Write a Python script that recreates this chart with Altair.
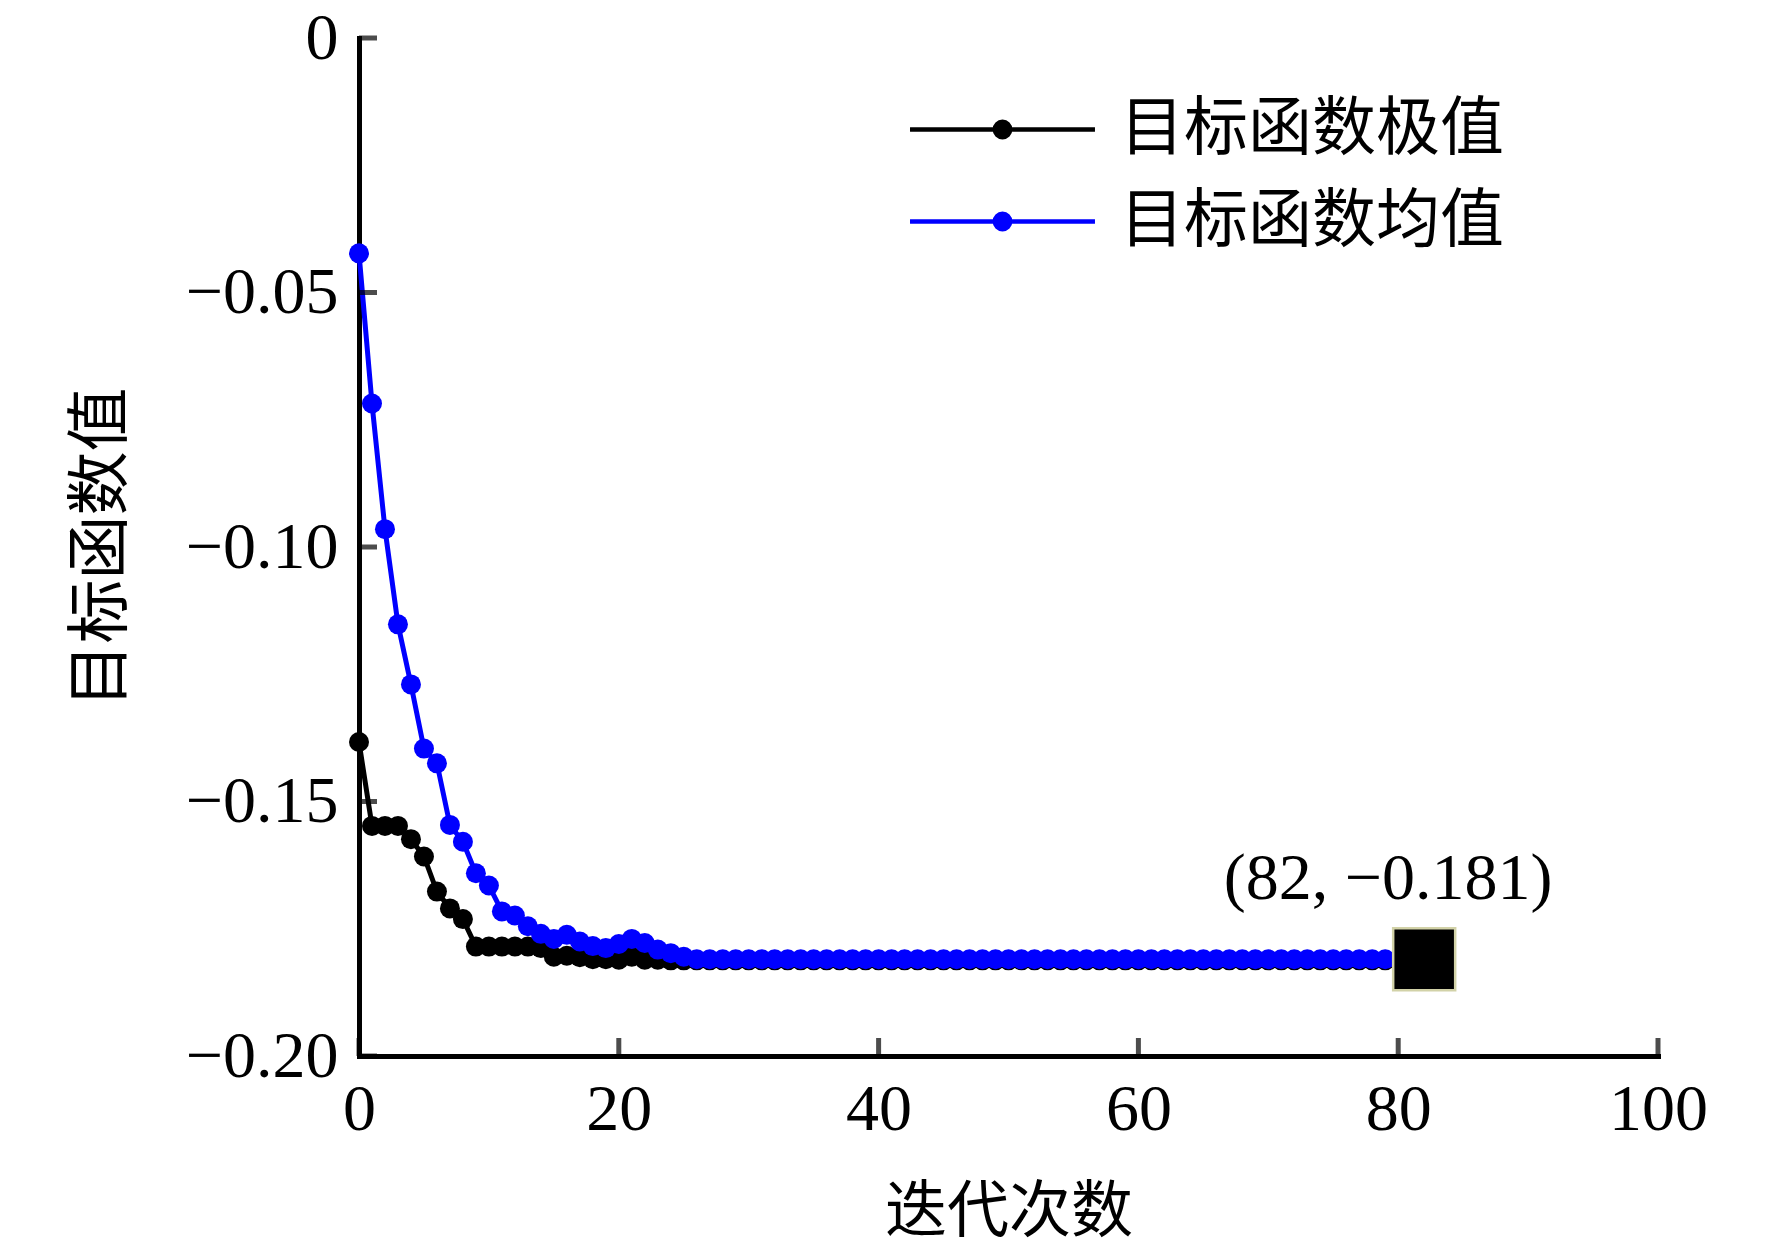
import altair as alt
import pandas as pd

# ---------------- data ----------------
iterations = list(range(80))
extreme_vals = [
    -0.1383, -0.1548, -0.1548, -0.1548, -0.1574, -0.1608, -0.1677, -0.1710, -0.1731, -0.1785,
    -0.1785, -0.1785, -0.1785, -0.1785, -0.1788, -0.1805, -0.1803, -0.1806, -0.1810, -0.1810,
    -0.1811, -0.1805, -0.1811, -0.1811, -0.1812, -0.1812, -0.1812, -0.1812, -0.1812, -0.1812,
    -0.1812, -0.1812, -0.1812, -0.1812, -0.1812, -0.1812, -0.1812, -0.1812, -0.1812, -0.1812,
    -0.1812, -0.1812, -0.1812, -0.1812, -0.1812, -0.1812, -0.1812, -0.1812, -0.1812, -0.1812,
    -0.1812, -0.1812, -0.1812, -0.1812, -0.1812, -0.1812, -0.1812, -0.1812, -0.1812, -0.1812,
    -0.1812, -0.1812, -0.1812, -0.1812, -0.1812, -0.1812, -0.1812, -0.1812, -0.1812, -0.1812,
    -0.1812, -0.1812, -0.1812, -0.1812, -0.1812, -0.1812, -0.1812, -0.1812, -0.1812, -0.1812,
]
mean_vals = [
    -0.0423, -0.0718, -0.0965, -0.1152, -0.1270, -0.1396, -0.1425, -0.1546, -0.1579, -0.1641,
    -0.1665, -0.1716, -0.1724, -0.1745, -0.1760, -0.1770, -0.1762, -0.1775, -0.1784, -0.1788,
    -0.1780, -0.1770, -0.1778, -0.1791, -0.1798, -0.1805, -0.1810, -0.1810, -0.1810, -0.1810,
    -0.1810, -0.1810, -0.1810, -0.1810, -0.1810, -0.1810, -0.1810, -0.1810, -0.1810, -0.1810,
    -0.1810, -0.1810, -0.1810, -0.1810, -0.1810, -0.1810, -0.1810, -0.1810, -0.1810, -0.1810,
    -0.1810, -0.1810, -0.1810, -0.1810, -0.1810, -0.1810, -0.1810, -0.1810, -0.1810, -0.1810,
    -0.1810, -0.1810, -0.1810, -0.1810, -0.1810, -0.1810, -0.1810, -0.1810, -0.1810, -0.1810,
    -0.1810, -0.1810, -0.1810, -0.1810, -0.1810, -0.1810, -0.1810, -0.1810, -0.1810, -0.1810,
]
series_names = ["目标函数极值", "目标函数均值"]
series_colors = ["#000000", "#0000ff"]
x_ticks = [0, 20, 40, 60, 80, 100]
y_ticks = [0, -0.05, -0.10, -0.15, -0.20]
best_x = [82]
best_y = [-0.181]
best_label = ["(82, \u22120.181)"]

FONT = "Liberation Serif, Times New Roman, Noto Sans CJK SC"

df = pd.DataFrame({
    "iter": iterations * 2,
    "value": extreme_vals + mean_vals,
    "series": [series_names[0]] * len(iterations) + [series_names[1]] * len(iterations),
})
df_xt = pd.DataFrame({"iter": x_ticks, "value": [y_ticks[-1]] * len(x_ticks)})
df_yt = pd.DataFrame({"iter": [x_ticks[0]] * len(y_ticks), "value": y_ticks})
df_best = pd.DataFrame({"iter": best_x, "value": best_y, "label": best_label})

# legend symbol: line with a dot in the middle (unit coords, scaled by sqrt(size))
def circ(r):
    return f"M{r},0A{r},{r},0,1,1,{-r},0A{r},{r},0,1,1,{r},0Z"

legend_path = "M-2.055,0L2.055,0" + circ(0.17) + circ(0.11) + circ(0.05)

x_enc = alt.X(
    "iter:Q",
    scale=alt.Scale(domain=[0, 100], nice=False, zero=False),
    axis=alt.Axis(
        values=x_ticks, ticks=False, grid=False, format="d",
        domainWidth=5, domainColor="black", domainCap="square",
        labelFontSize=66, labelPadding=21, labelFlush=False, labelOverlap=False,
        labelFont=FONT, labelColor="black",
        title="迭代次数", titleFontSize=62, titlePadding=40, titleFont=FONT,
        titleFontWeight="normal", titleColor="black",
    ),
)
y_enc = alt.Y(
    "value:Q",
    scale=alt.Scale(domain=[-0.2, 0], nice=False, zero=False),
    axis=alt.Axis(
        values=y_ticks, ticks=False, grid=False,
        labelExpr="datum.value == 0 ? '0' : format(datum.value, '.2f')",
        domainWidth=5, domainColor="black", domainCap="square",
        labelFontSize=66, labelPadding=21, labelFlush=False, labelOverlap=False,
        labelFont=FONT, labelColor="black",
        title="目标函数值", titleFontSize=64, titlePadding=52, titleFont=FONT,
        titleFontWeight="normal", titleColor="black",
    ),
)
color_enc = alt.Color(
    "series:N",
    scale=alt.Scale(domain=series_names, range=series_colors),
    legend=alt.Legend(
        title=None, orient="none", legendX=596, legendY=44,
        symbolType=legend_path, symbolSize=8100, symbolStrokeWidth=4.5,
        labelOffset=70, labelFontSize=64, labelFont=FONT, labelColor="black",
        labelLimit=0, rowPadding=12, padding=0,
    ),
)

base = alt.Chart(df)
layers = []
for name in series_names:
    sub = base.transform_filter(alt.datum.series == name)
    layers.append(sub.mark_line(strokeWidth=5).encode(x=x_enc, y=y_enc, color=color_enc))
    layers.append(sub.mark_point(filled=True, size=400, opacity=1).encode(x=x_enc, y=y_enc, color=color_enc))

xticks_layer = alt.Chart(df_xt).mark_tick(
    orient="vertical", size=18, thickness=5, yOffset=-9, color="black"
).encode(x="iter:Q", y="value:Q")
yticks_layer = alt.Chart(df_yt).mark_tick(
    orient="horizontal", size=18, thickness=5, xOffset=9, color="black"
).encode(x="iter:Q", y="value:Q")

best_square = alt.Chart(df_best).mark_square(
    size=3844, color="black", stroke="#d2d2a8", strokeWidth=2.5, opacity=1
).encode(x="iter:Q", y="value:Q")
best_text = alt.Chart(df_best).mark_text(
    font=FONT, fontSize=66, align="center", baseline="alphabetic", dx=-36, dy=-60, color="black"
).encode(x="iter:Q", y="value:Q", text="label:N")

chart = alt.layer(
    *layers, xticks_layer, yticks_layer, best_square, best_text
).properties(
    width=1299, height=1018,
    padding={"left": 351, "top": 30, "right": 100, "bottom": 190},
    autosize=alt.AutoSizeParams(type="none"),
    background="white",
).configure_view(stroke=None)

chart.save("out.html", embed_options={"renderer": "svg", "actions": False})
